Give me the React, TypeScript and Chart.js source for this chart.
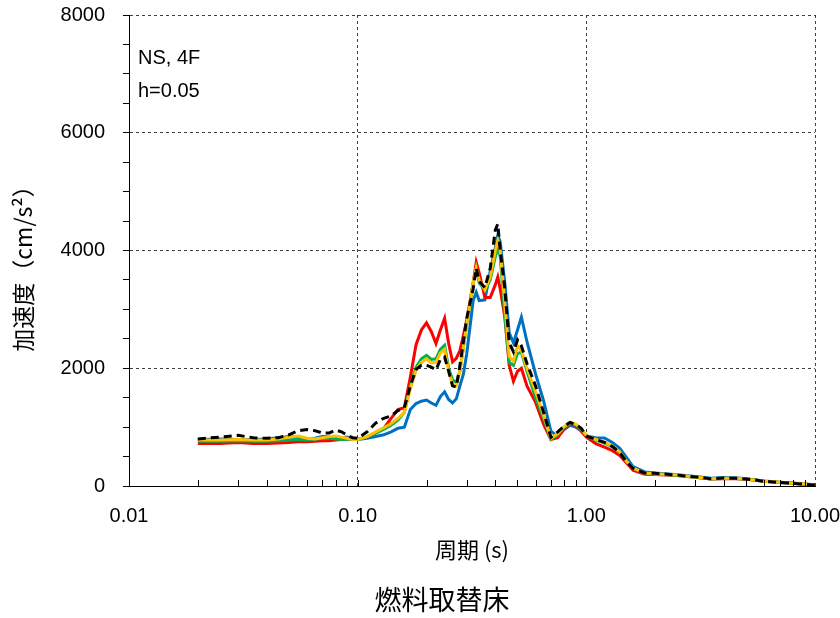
import React, { useEffect, useRef } from "react";
import { Chart, registerables } from "chart.js";
Chart.register(...registerables);

const periods = [0.02,0.025,0.03,0.035,0.04,0.045,0.05,0.055,0.06,0.065,0.07,0.075,0.08,0.085,0.09,0.095,
  0.1,0.11,0.12,0.13,0.14,0.15,0.16,0.17,0.18,0.19,0.2,0.21,0.22,0.23,0.24,0.25,0.26,0.27,0.28,0.29,0.3,
  0.32,0.33,0.34,0.36,0.38,
  0.4,0.41,0.42,0.44,0.46,0.48,0.5,0.52,0.55,
  0.6,0.65,0.7,0.75,0.8,0.85,0.9,0.95,1.0,
  1.1,1.2,1.3,1.4,1.5,1.6,1.8,2.0,
  2.5,3.0,3.5,4.0,4.5,5.0,6.0,7.0,8.0,9.0,10.0];

const redValues = [720,720,740,720,720,730,740,750,750,760,770,770,780,790,800,800,
  800,830,900,980,1150,1300,1330,1850,2400,2650,2770,2620,2420,2650,2850,2420,2110,2170,2300,2560,2820,
  3450,3800,3620,3200,3200,
  3420,3550,3350,2870,2050,1780,1950,2000,1700,
  1420,1050,790,820,980,1060,1030,930,830,
  720,660,600,520,390,270,200,195,
  180,150,120,125,125,115,80,60,45,30,15];

const blueValues = [790,800,790,790,800,820,840,820,800,810,840,840,820,820,830,810,
  790,810,840,870,920,980,1000,1300,1400,1440,1460,1410,1370,1520,1600,1470,1410,1480,1700,1900,2250,
  3150,3290,3150,3160,3650,
  4050,4260,4150,3450,2600,2430,2650,2870,2450,
  1900,1450,930,840,960,1030,1000,940,850,
  820,815,740,640,480,330,240,220,
  190,160,130,145,140,125,85,65,50,35,20];

const greenValues = [760,760,770,760,760,770,780,790,780,790,810,820,800,790,800,790,
  790,830,900,960,1030,1120,1250,1700,2020,2160,2220,2150,2160,2320,2390,2000,1800,1760,1950,2350,2750,
  3450,3700,3450,3330,3500,
  3900,4040,3900,2900,2100,2050,2250,2270,1950,
  1500,1150,790,870,1000,1070,1040,960,850,
  780,730,670,570,410,300,215,205,
  180,150,120,130,128,118,80,60,45,30,15];

const yellowValues = [780,780,790,780,780,800,830,850,810,800,820,840,850,830,810,790,
  790,840,920,990,1060,1150,1250,1650,1970,2100,2160,2090,2100,2260,2320,1950,1720,1700,1950,2350,2750,
  3450,3700,3500,3330,3550,
  4000,4170,4000,3100,2200,2120,2380,2300,2000,
  1600,1200,810,890,1010,1080,1050,970,860,
  790,740,680,580,420,305,220,210,
  185,152,122,132,130,120,82,62,46,32,18];

const blackValues = [800,830,860,820,810,820,870,940,960,940,900,900,950,920,860,820,
  810,920,1070,1150,1190,1280,1330,1700,1980,2050,2050,2020,1970,2150,2190,1950,1700,1680,2050,2450,2850,
  3350,3700,3480,3370,3700,
  4350,4450,4000,3350,2430,2280,2480,2380,2080,
  1700,1250,830,920,1020,1080,1040,980,850,
  790,740,670,570,410,300,220,215,
  185,155,125,135,130,120,80,60,45,30,15];

const xMin = 0.01;
const xMax = 10;
const yMin = 0;
const yMax = 8000;
const yMinorStep = 500;
const yMajorStep = 2000;

const annotationLines = ["NS, 4F", "h=0.05"];
const xTitle = "周期 (s)";
const yTitle = "加速度（cm/s²）";
const caption = "燃料取替床";

const isDecade = (v: number) => Math.abs(Math.log10(v) - Math.round(Math.log10(v))) < 1e-6;

export default function App() {
  const ref = useRef<HTMLCanvasElement>(null);
  useEffect(() => {
    const canvas = ref.current!;
    const mk = (vals: number[]) => periods.map((p, i) => ({ x: p, y: vals[i] }));
    const overlay = {
      id: "overlay",
      afterDraw(chart: any) {
        const { ctx, chartArea: ca, scales } = chart;
        const xs = scales.x;
        ctx.save();
        ctx.strokeStyle = "#000";
        ctx.lineWidth = 1;
        for (let d = -2; d < 1; d++) {
          for (let m = 1; m <= 9; m++) {
            const v = m * Math.pow(10, d);
            const px = Math.round(xs.getPixelForValue(v)) + 0.5;
            ctx.beginPath();
            ctx.moveTo(px, ca.bottom);
            ctx.lineTo(px, ca.bottom - 6);
            ctx.stroke();
          }
        }
        ctx.fillStyle = "#000";
        ctx.font = '20px "Liberation Sans", Arial, sans-serif';
        ctx.textAlign = "left";
        ctx.textBaseline = "alphabetic";
        ctx.fillText(annotationLines[0], ca.left + 9, ca.top + 49);
        ctx.fillText(annotationLines[1], ca.left + 9, ca.top + 82);
        ctx.textAlign = "center";
        ctx.textBaseline = "middle";
        ctx.font = '22px "Noto Sans CJK JP", sans-serif';
        ctx.fillText(xTitle, (ca.left + ca.right) / 2, 550);
        ctx.font = '27px "Noto Sans CJK JP", sans-serif';
        ctx.fillText(caption, 442, 600);
        ctx.translate(23, 263);
        ctx.rotate(-Math.PI / 2);
        ctx.font = '23px "Noto Sans CJK JP", sans-serif';
        ctx.fillText(yTitle, 0, 0);
        ctx.restore();
      },
    };
    const chart = new Chart(canvas, {
      type: "line",
      data: {
        datasets: [
          { label: "black", data: mk(blackValues), borderColor: "#000000", borderWidth: 3, borderDash: [8, 5] },
          { label: "yellow", data: mk(yellowValues), borderColor: "#FFC000", borderWidth: 3 },
          { label: "green", data: mk(greenValues), borderColor: "#00B050", borderWidth: 3 },
          { label: "red", data: mk(redValues), borderColor: "#FF0000", borderWidth: 3 },
          { label: "blue", data: mk(blueValues), borderColor: "#0070C0", borderWidth: 3 },
        ] as any,
      },
      options: {
        animation: false,
        responsive: false,
        maintainAspectRatio: false,
        devicePixelRatio: 1,
        layout: { padding: { top: 15, right: 25, left: 0, bottom: 0 } },
        elements: { point: { radius: 0 }, line: { tension: 0 } },
        plugins: { legend: { display: false }, tooltip: { enabled: false } },
        scales: {
          x: {
            type: "logarithmic",
            min: xMin,
            max: xMax,
            afterFit: (s: any) => {
              s.height = 132;
              s.paddingLeft = 0; s.paddingRight = 0; s.paddingTop = 0; s.paddingBottom = 0;
            },
            grid: {
              color: (c: any) => (c.tick && isDecade(c.tick.value) ? "#404040" : "transparent"),
              drawTicks: false,
              lineWidth: 1,
            },
            border: { display: true, color: "#000", width: 1, dash: [3, 3] },
            ticks: {
              autoSkip: false,
              maxRotation: 0,
              padding: 18,
              color: "#000",
              font: { family: '"Liberation Sans", Arial, sans-serif', size: 20 },
              callback: (v: any) => (isDecade(Number(v)) ? Number(v).toFixed(2) : ""),
            },
          },
          y: {
            min: yMin,
            max: yMax,
            afterFit: (s: any) => {
              s.width = 129;
              s.paddingLeft = 0; s.paddingRight = 0; s.paddingTop = 0; s.paddingBottom = 0;
            },
            grid: {
              color: (c: any) => (c.tick && c.tick.value % yMajorStep === 0 ? "#404040" : "transparent"),
              tickColor: "#000",
              tickLength: 6,
              lineWidth: 1,
            },
            border: { display: true, color: "#000", width: 1, dash: [3, 3] },
            ticks: {
              stepSize: yMinorStep,
              autoSkip: false,
              padding: 18,
              color: "#000",
              font: { family: '"Liberation Sans", Arial, sans-serif', size: 20 },
              callback: (v: any) => (Number(v) % yMajorStep === 0 ? String(v) : ""),
            },
          },
        },
      },
      plugins: [overlay],
    });
    return () => chart.destroy();
  }, []);
  return (
    <div style={{ position: "absolute", left: 0, top: 0, width: 840, height: 618 }}>
      <canvas ref={ref} width={840} height={618} />
    </div>
  );
}
